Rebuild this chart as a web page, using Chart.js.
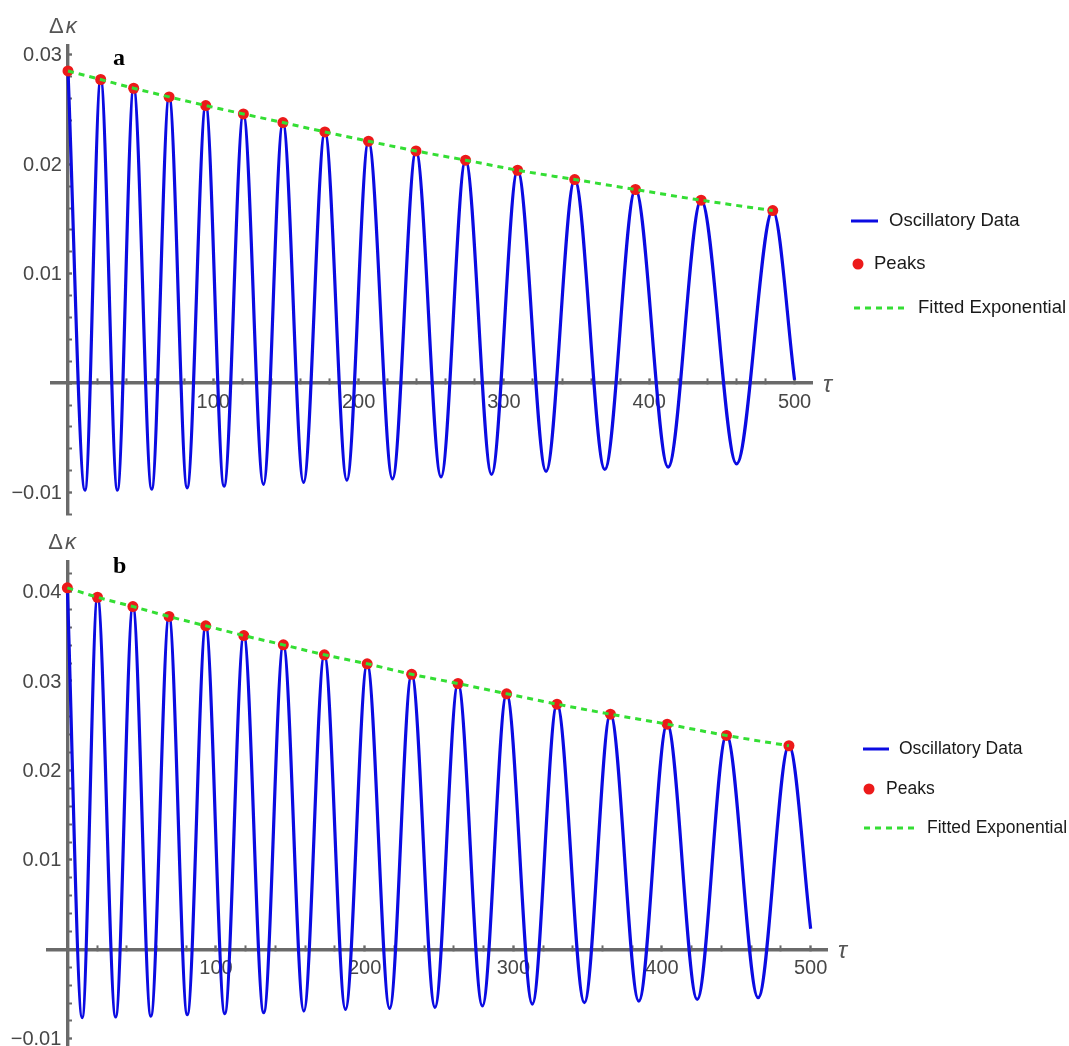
<!DOCTYPE html>
<html>
<head>
<meta charset="utf-8">
<script src="https://cdn.jsdelivr.net/npm/chart.js@4.4.1/dist/chart.umd.min.js"></script>
<style>
  html, body { margin: 0; padding: 0; background: #fff; }
  #wrap { position: relative; width: 1069px; height: 1046px; overflow: hidden; }
  canvas { position: absolute; left: 0; }
  #panelA { top: 0; }
  #panelB { top: 520px; }
</style>
</head>
<body>
<div id="wrap">
  <canvas id="panelA" width="1069" height="520"></canvas>
  <canvas id="panelB" width="1069" height="532"></canvas>
</div>
<script>
// --- DATA: panel a ---
const peakTauA = [0, 22.5, 45.2, 69.6, 94.8, 120.7, 147.9, 176.8, 206.8, 239.5, 273.6, 309.4, 348.7, 390.5, 435.7, 485.0];
const peakValA = [0.02852, 0.02774, 0.02694, 0.02615, 0.02536, 0.02459, 0.02381, 0.02295, 0.0221, 0.02121, 0.02037, 0.01945, 0.0186, 0.01769, 0.01671, 0.01577];
const troughTauA = [11.7, 34.0, 57.6, 82.0, 107.4, 134.5, 162.1, 191.9, 223.3, 256.7, 291.5, 329.0, 369.4, 413.0, 460.1];
const troughValA = [-0.00977, -0.00977, -0.00968, -0.00956, -0.00941, -0.00925, -0.00907, -0.00886, -0.00874, -0.00856, -0.00834, -0.00806, -0.00788, -0.00767, -0.00737];
const endA = [500, 0.0003];

// --- DATA: panel b ---
const peakTauB = [0, 20.3, 44.1, 68.4, 93.1, 118.7, 145.3, 172.9, 201.7, 231.6, 262.8, 295.5, 329.4, 365.3, 403.5, 443.4, 485.4];
const peakValB = [0.04041, 0.03936, 0.03832, 0.03721, 0.03617, 0.03508, 0.03404, 0.03293, 0.03192, 0.03075, 0.02972, 0.02857, 0.02741, 0.02629, 0.02517, 0.02391, 0.02276];
const troughTauB = [10.0, 32.5, 56.2, 80.7, 105.9, 132.1, 159.1, 187.1, 216.8, 247.3, 279.2, 312.8, 347.8, 384.4, 423.7, 464.7];
const troughValB = [-0.00763, -0.00756, -0.00745, -0.0073, -0.00718, -0.00707, -0.00689, -0.0067, -0.00659, -0.00648, -0.00633, -0.00611, -0.00596, -0.00578, -0.00559, -0.0054];
const endB = [500, 0.0023];

const legendLabels = ['Oscillatory Data', 'Peaks', 'Fitted Exponential'];
const majorTauTicks = [100, 200, 300, 400, 500];

// --- STYLE ---
const BLUE = '#0b0be2';
const RED = '#ec1a1a';
const GREEN = '#34de34';
const AXIS = '#6a6a6a';
const LABEL = '#474747';
const SANS = '"Liberation Sans", Arial, Helvetica, sans-serif';
const TICK_FONT = '20px ' + SANS;

Chart.defaults.font.family = SANS;

function toPoints(xs, ys) {
    return xs.map((x, i) => ({ x: x, y: ys[i] }));
}

// peaks + troughs + last sample, in tau order
function curvePoints(pt, pv, tt, tv, end) {
    const pts = toPoints(pt, pv).concat(toPoints(tt, tv));
    pts.push({ x: end[0], y: end[1] });
    return pts.sort((a, b) => a.x - b.x);
}

function isMultiple(v, step) {
    const r = v / step;
    return Math.abs(r - Math.round(r)) < 1e-6;
}

function yLabel(v) {
    if (!isMultiple(v, 0.01) || Math.abs(v) < 1e-9) return '';
    return (v < 0 ? '\u2212' : '') + Math.abs(v).toFixed(2);
}

// y tick labels, axis names, panel letter and the legend box
const decor = {
    id: 'decor',
    afterDraw(chart, args, opts) {
        const ctx = chart.ctx;
        const area = chart.chartArea;
        const yScale = chart.scales.y;
        const x0 = chart.scales.x.getPixelForValue(0);
        const y0 = yScale.getPixelForValue(0);
        ctx.save();

        // labels left of the crossing y axis
        ctx.font = TICK_FONT;
        ctx.fillStyle = LABEL;
        ctx.textAlign = 'right';
        ctx.textBaseline = 'middle';
        yScale.ticks.forEach(t => {
            const s = yLabel(t.value);
            if (s) ctx.fillText(s, x0 - 6, yScale.getPixelForValue(t.value) + 1);
        });

        ctx.textAlign = 'left';
        ctx.textBaseline = 'alphabetic';
        ctx.fillStyle = '#555';
        ctx.font = '22px ' + SANS;
        ctx.fillText('Δ', x0 - 19, area.top - 13);
        const dw = ctx.measureText('Δ').width;
        ctx.font = 'italic 22px ' + SANS;
        ctx.fillText('κ', x0 - 19 + dw + 2, area.top - 13);
        ctx.font = 'italic 24px ' + SANS;
        ctx.fillText('τ', area.right + 11, y0 + 9);

        ctx.fillStyle = '#000';
        ctx.font = 'bold 24px "Liberation Serif", "Times New Roman", serif';
        ctx.fillText(opts.letter, opts.letterX, opts.letterY);

        const lg = opts.legend;
        ctx.font = lg.size + 'px ' + SANS;
        ctx.textBaseline = 'middle';

        ctx.strokeStyle = BLUE;
        ctx.lineWidth = 3;
        ctx.beginPath();
        ctx.moveTo(lg.line[0], lg.rows[0]);
        ctx.lineTo(lg.line[1], lg.rows[0]);
        ctx.stroke();
        ctx.fillStyle = '#1a1a1a';
        ctx.fillText(legendLabels[0], lg.text[0], lg.rows[0]);

        ctx.fillStyle = RED;
        ctx.beginPath();
        ctx.arc(lg.dot, lg.rows[1], 5.5, 0, Math.PI * 2);
        ctx.fill();
        ctx.fillStyle = '#1a1a1a';
        ctx.fillText(legendLabels[1], lg.text[1], lg.rows[1]);

        ctx.strokeStyle = GREEN;
        ctx.setLineDash([6, 5]);
        ctx.beginPath();
        ctx.moveTo(lg.dash[0], lg.rows[2]);
        ctx.lineTo(lg.dash[1], lg.rows[2]);
        ctx.stroke();
        ctx.setLineDash([]);
        ctx.fillStyle = '#1a1a1a';
        ctx.fillText(legendLabels[2], lg.text[2], lg.rows[2]);

        ctx.restore();
    }
};

function makePanel(id, p) {
    const curve = curvePoints(p.peakTau, p.peakVal, p.troughTau, p.troughVal, p.end);
    const peaks = toPoints(p.peakTau, p.peakVal);

    return new Chart(document.getElementById(id), {
        type: 'line',
        data: {
            datasets: [
                {
                    label: legendLabels[2],
                    data: peaks,
                    borderColor: GREEN,
                    borderWidth: 3,
                    borderDash: [6, 5],
                    pointRadius: 0,
                    cubicInterpolationMode: 'monotone',
                    order: 0
                },
                {
                    label: legendLabels[1],
                    data: peaks,
                    showLine: false,
                    pointRadius: 5.5,
                    pointBackgroundColor: RED,
                    pointBorderWidth: 0,
                    order: 1
                },
                {
                    label: legendLabels[0],
                    data: curve,
                    borderColor: BLUE,
                    borderWidth: 3.2,
                    pointRadius: 0,
                    cubicInterpolationMode: 'monotone',
                    order: 2
                }
            ]
        },
        options: {
            responsive: false,
            animation: false,
            layout: { padding: p.padding },
            plugins: {
                legend: { display: false },
                tooltip: { enabled: false },
                decor: { letter: p.letter, letterX: p.letterX, letterY: p.letterY, legend: p.legend }
            },
            scales: {
                x: {
                    type: 'linear',
                    min: p.xMin,
                    max: p.xMax,
                    position: { y: 0 },
                    border: { display: true, color: AXIS, width: 3.4 },
                    grid: {
                        display: true,
                        drawOnChartArea: false,
                        drawTicks: true,
                        tickLength: -6,
                        tickColor: AXIS,
                        tickWidth: c => (c.tick && majorTauTicks.includes(c.tick.value)) ? 2.4 : 2
                    },
                    ticks: {
                        stepSize: 20,
                        autoSkip: false,
                        includeBounds: false,
                        maxRotation: 0,
                        padding: 13,
                        color: LABEL,
                        font: { size: 20 },
                        callback: v => majorTauTicks.includes(v) ? String(v) : ''
                    }
                },
                y: {
                    type: 'linear',
                    min: p.yMin,
                    max: p.yMax,
                    position: { x: 0 },
                    border: { display: true, color: AXIS, width: 3.4 },
                    grid: {
                        display: true,
                        drawOnChartArea: false,
                        drawTicks: true,
                        tickLength: -6,
                        tickColor: AXIS,
                        tickWidth: c => (c.tick && isMultiple(c.tick.value, 0.01)) ? 2.4 : 2
                    },
                    ticks: {
                        display: false,
                        stepSize: 0.002,
                        autoSkip: false,
                        includeBounds: false
                    }
                }
            }
        },
        plugins: [decor]
    });
}

makePanel('panelA', {
    peakTau: peakTauA, peakVal: peakValA, troughTau: troughTauA, troughVal: troughValA, end: endA,
    xMin: -11, xMax: 512, yMin: -0.012, yMax: 0.0308,
    padding: { left: 52, right: 257, top: 46, bottom: 5 },
    letter: 'a', letterX: 113, letterY: 65,
    legend: { size: 18.5, rows: [221, 264, 308], line: [851, 878], dot: 858, dash: [854, 905], text: [889, 874, 918] }
});

makePanel('panelB', {
    peakTau: peakTauB, peakVal: peakValB, troughTau: troughTauB, troughVal: troughValB, end: endB,
    xMin: -13, xMax: 511, yMin: -0.0108, yMax: 0.0433,
    padding: { left: 48, right: 242, top: 42, bottom: 6 },
    letter: 'b', letterX: 113, letterY: 53,
    legend: { size: 17.5, rows: [229, 269, 308], line: [863, 889], dot: 869, dash: [864, 914], text: [899, 886, 927] }
});
</script>
</body>
</html>
